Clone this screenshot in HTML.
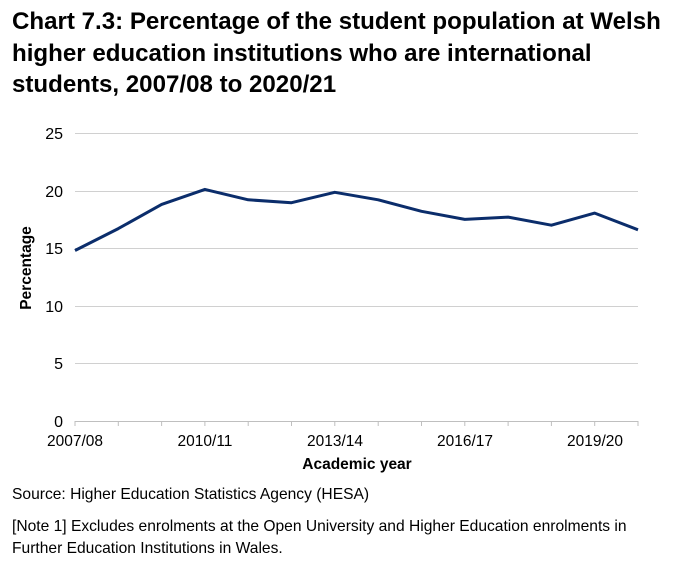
<!DOCTYPE html>
<html><head><style>
body{margin:0;background:#fff;width:674px;height:572px;overflow:hidden;font-family:"Liberation Sans",Arial,sans-serif;}
h1{position:absolute;left:12px;top:6px;margin:0;font-size:24.1px;line-height:31.5px;font-weight:bold;color:#000;white-space:nowrap;}
.t{position:absolute;font-size:15.6px;color:#000;white-space:nowrap;}
</style></head><body>
<h1>Chart 7.3: Percentage of the student population at Welsh<br>higher education institutions who are international<br>students, 2007/08 to 2020/21</h1>
<svg width="674" height="572" style="position:absolute;left:0;top:0">
<g stroke="#d0d0d0" stroke-width="1">
<line x1="75" x2="638" y1="133.5" y2="133.5"/>
<line x1="75" x2="638" y1="191.5" y2="191.5"/>
<line x1="75" x2="638" y1="248.5" y2="248.5"/>
<line x1="75" x2="638" y1="306.5" y2="306.5"/>
<line x1="75" x2="638" y1="363.5" y2="363.5"/>
</g>
<line x1="75" x2="638" y1="421.5" y2="421.5" stroke="#bfbfbf"/>
<g stroke="#bfbfbf" id="ticks"></g>
<polyline id="ln" fill="none" stroke="#0b2d6b" stroke-width="3" stroke-linejoin="round"/>
<g font-family="Liberation Sans, Arial, sans-serif" font-size="16" fill="#000" text-anchor="end">
<text x="63" y="139">25</text><text x="63" y="197">20</text><text x="63" y="254">15</text>
<text x="63" y="312">10</text><text x="63" y="369">5</text><text x="63" y="427">0</text>
</g>
<g font-family="Liberation Sans, Arial, sans-serif" font-size="15.5" fill="#000" text-anchor="middle">
<text x="75" y="446">2007/08</text><text x="205" y="446">2010/11</text><text x="335" y="446">2013/14</text>
<text x="465" y="446">2016/17</text><text x="595" y="446">2019/20</text>
<text x="357" y="469" font-weight="bold">Academic year</text>
<text transform="translate(31,268) rotate(-90)" font-weight="bold">Percentage</text>
</g>
</svg>
<div class="t" style="left:12px;top:486px">Source: Higher Education Statistics Agency (HESA)</div>
<div class="t" style="left:12px;top:516px;line-height:22px">[Note 1] Excludes enrolments at the Open University and Higher Education enrolments in<br>Further Education Institutions in Wales.</div>
<script>
var d=[14.8,16.7,18.8,20.1,19.2,18.95,19.85,19.2,18.2,17.5,17.7,17.0,18.05,16.6];
var p=[],t="";
for(var i=0;i<14;i++){var x=75+i*563/13;p.push(x.toFixed(1)+","+(421-d[i]*11.52).toFixed(1));
t+='<line x1="'+x.toFixed(1)+'" x2="'+x.toFixed(1)+'" y1="421" y2="426"/>';}
document.getElementById("ln").setAttribute("points",p.join(" "));
document.getElementById("ticks").innerHTML=t;
</script>
</body></html>
